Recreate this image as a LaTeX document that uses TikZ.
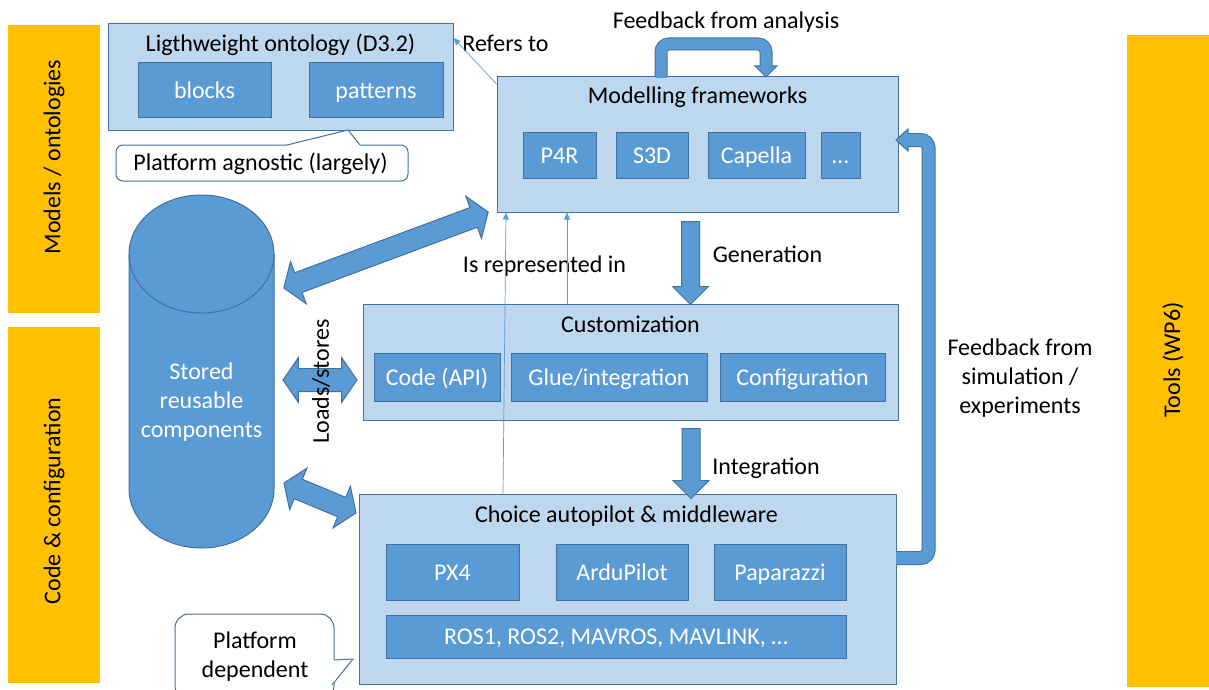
\documentclass[tikz,border=0pt]{standalone}
\usepackage{fontspec}
\setmainfont{Carlito}
\usetikzlibrary{shapes.arrows,arrows.meta,calc}
\definecolor{ybar}{HTML}{FFC000}
\definecolor{lblue}{HTML}{BDD7EE}
\definecolor{mblue}{HTML}{5B9BD5}
\definecolor{bdr}{HTML}{41719C}
\begin{document}
\begin{tikzpicture}[x=1pt,y=-1pt,
  every node/.style={font=\fontsize{24}{29}\selectfont, inner sep=0pt},
  band/.style={fill=ybar, draw=none},
  lbox/.style={draw=bdr, fill=lblue, line width=1pt},
  dbox/.style={draw=bdr, fill=mblue, line width=1pt, text=white, text height=17pt, text depth=1pt},
  callout/.style={draw=bdr, fill=white, line width=1pt},
  thinarr/.style={draw=mblue, line width=0.7pt, -{Triangle[length=7pt,width=6pt]}},
  blockarr/.style={draw=bdr, fill=mblue, line width=1pt},
  shaftout/.style={draw=bdr, line width=14pt, rounded corners=8pt},
  shaftin/.style={draw=mblue, line width=12pt, rounded corners=8pt},
]
\useasboundingbox (0,0) rectangle (1209,690);
\fill[white] (0,0) rectangle (1209,690);

% side bands
\node[band, minimum width=92pt, minimum height=288pt] (b1) at (54,169) {};
\node[rotate=90] (b1t) at (54,157) {Models / ontologies};
\node[band, minimum width=92pt, minimum height=356pt] (b2) at (54,505) {};
\node[rotate=90] (b2t) at (54,501) {Code \& configuration};
\node[band, minimum width=82pt, minimum height=652pt] (b3) at (1168,361) {};
\node[rotate=90] (b3t) at (1173,360) {Tools (WP6)};

% ontology
\node[lbox, minimum width=345pt, minimum height=106pt] (onto) at (280.5,77) {};
\node[anchor=base] (ontot) at (280.5,52) {Ligthweight ontology (D3.2)};
\node[dbox, minimum width=133pt, minimum height=55pt] (blocks) at (204.5,90.5) {blocks};
\node[dbox, minimum width=134pt, minimum height=55pt] (patterns) at (376,90.5) {patterns};

% callout agnostic
\node[callout, rounded corners=7pt, minimum width=292pt, minimum height=36pt] (agn) at (262,163) {};
\node[anchor=base] (agnt) at (260.5,170) {Platform agnostic (largely)};
\coordinate (agtip) at (348,130);
\fill[white] (287,147) -- (287,145) -- (agtip) -- (360,145) -- (360,147) -- cycle;
\draw[bdr, line width=1pt] (287,145) -- (agtip) -- (360,145);

% modelling frameworks
\node[lbox, minimum width=401pt, minimum height=135pt] (mf) at (697.5,144.5) {};
\node[anchor=base] (mft) at (697.5,104) {Modelling frameworks};
\node[dbox, minimum width=73pt, minimum height=46pt] (p4r) at (559.5,155) {P4R};
\node[dbox, minimum width=72pt, minimum height=46pt] (s3d) at (652,155) {S3D};
\node[dbox, minimum width=97pt, minimum height=46pt] (capella) at (756.5,155) {Capella};
\node[dbox, minimum width=39pt, minimum height=46pt] (dots) at (840.5,155) {…};

% refers to
\node[anchor=base] (refl) at (505.5,52) {Refers to};
\coordinate (ya) at (0,84);
\coordinate (yb) at (0,38);
\draw[thinarr] (mf.west |- ya) -- (onto.east |- yb);

% feedback from analysis
\node[anchor=base] (fba) at (726,29) {Feedback from analysis};
\draw[blockarr] (755,66) -- (777,66) -- (766,77) -- cycle;
\draw[shaftout, line width=13pt] (661,77) -- (661,44) -- (766,44) -- (766,66.5);
\draw[shaftin, line width=11pt] (661,78) -- (661,44) -- (766,44) -- (766,67.5);

% customization
\node[lbox, minimum width=535pt, minimum height=116pt] (cust) at (630.5,362) {};
\node[anchor=base] (custt) at (630.5,332) {Customization};
\node[dbox, minimum width=126pt, minimum height=48pt] (code) at (437,377) {Code (API)};
\node[dbox, minimum width=196pt, minimum height=48pt] (glue) at (609,377) {Glue/integration};
\node[dbox, minimum width=165pt, minimum height=48pt] (conf) at (802.5,377) {Configuration};

% choice
\node[lbox, minimum width=537pt, minimum height=190pt] (choice) at (627.5,589) {};
\node[anchor=base] (choicet) at (626.5,522) {Choice autopilot \& middleware};
\node[dbox, minimum width=133pt, minimum height=56pt] (px4) at (452.5,572.5) {PX4};
\node[dbox, minimum width=132pt, minimum height=56pt] (ardu) at (622,572.5) {ArduPilot};
\node[dbox, minimum width=132pt, minimum height=56pt] (papa) at (780,572.5) {Paparazzi};
\node[dbox, minimum width=460pt, minimum height=43pt] (ros) at (616,636.5) {ROS1, ROS2, MAVROS, MAVLINK, …};

% generation / integration
\node[blockarr, single arrow, rotate=-90, minimum height=83pt, inner xsep=0pt, inner ysep=8.5pt,
  single arrow head extend=9pt, single arrow tip angle=90] (gen) at (690.5,258.5) {};
\node[anchor=base] (genl) at (767.5,262) {Generation};
\node[blockarr, single arrow, rotate=-90, minimum height=70pt, inner xsep=0pt, inner ysep=8.5pt,
  single arrow head extend=9pt, single arrow tip angle=90] (integ) at (691,459) {};
\node[anchor=base] (intl) at (766,474) {Integration};

% is represented in
\node[anchor=base] (irl) at (544.5,272) {Is represented in};
\coordinate (xa) at (503,0);
\coordinate (xb) at (506,0);
\coordinate (xc) at (567,0);
\draw[thinarr] (choice.north -| xa) -- (mf.south -| xb);
\draw[thinarr] (cust.north -| xc) -- (mf.south -| xc);

% cylinder
\fill[mblue] (129,254) -- (129,489) arc[start angle=180, end angle=360, x radius=72.5pt, y radius=59pt]
  -- (274,254) arc[start angle=0, end angle=180, x radius=72.5pt, y radius=59pt] -- cycle;
\draw[bdr, line width=1pt] (129,254) -- (129,489) arc[start angle=180, end angle=360, x radius=72.5pt, y radius=59pt]
  -- (274,254);
\draw[bdr, line width=1pt] (201.5,254) ellipse [x radius=72.5pt, y radius=59pt];
\node[text=white, align=center] (store) at (201.5,402) {Stored\\reusable\\components};

% double arrows
\node[blockarr, double arrow, rotate=20.4, minimum height=218pt, inner xsep=0pt, inner ysep=10pt,
  double arrow head extend=12pt, double arrow tip angle=111] (cm) at (386,250) {};
\node[blockarr, double arrow, minimum height=74pt, inner xsep=0pt, inner ysep=11pt,
  double arrow head extend=11pt, double arrow tip angle=111] (ls) at (320,380) {};
\node[rotate=90] (lsl) at (321,381.5) {Loads/stores};
\node[blockarr, double arrow, rotate=-22.6, minimum height=78pt, inner xsep=0pt, inner ysep=10pt,
  double arrow head extend=12pt, double arrow tip angle=111] (cc) at (320,498) {};

% feedback from simulation
\draw[blockarr] (908,129) -- (908,151) -- (896,140) -- cycle;
\draw[shaftout, line width=14pt] (897,558) -- (928.5,558) -- (928.5,140) -- (907.5,140);
\draw[shaftin, line width=12pt] (896,558) -- (928.5,558) -- (928.5,140) -- (906.5,140);
\node[align=center] (fbs) at (1020,378) {Feedback from\\simulation /\\experiments};

% platform dependent callout
\node[callout, rounded corners=14pt, minimum width=159pt, minimum height=86pt] (pdep) at (254.5,657) {};
\fill[white] (330,660) -- (334,660) -- (353,659) -- (332,685) -- (330,685) -- cycle;
\draw[bdr, line width=1pt] (334,660) -- (353,659) -- (332,685);
\node[align=center] (pdept) at (255,657) {Platform\\dependent};
\end{tikzpicture}
\end{document}
